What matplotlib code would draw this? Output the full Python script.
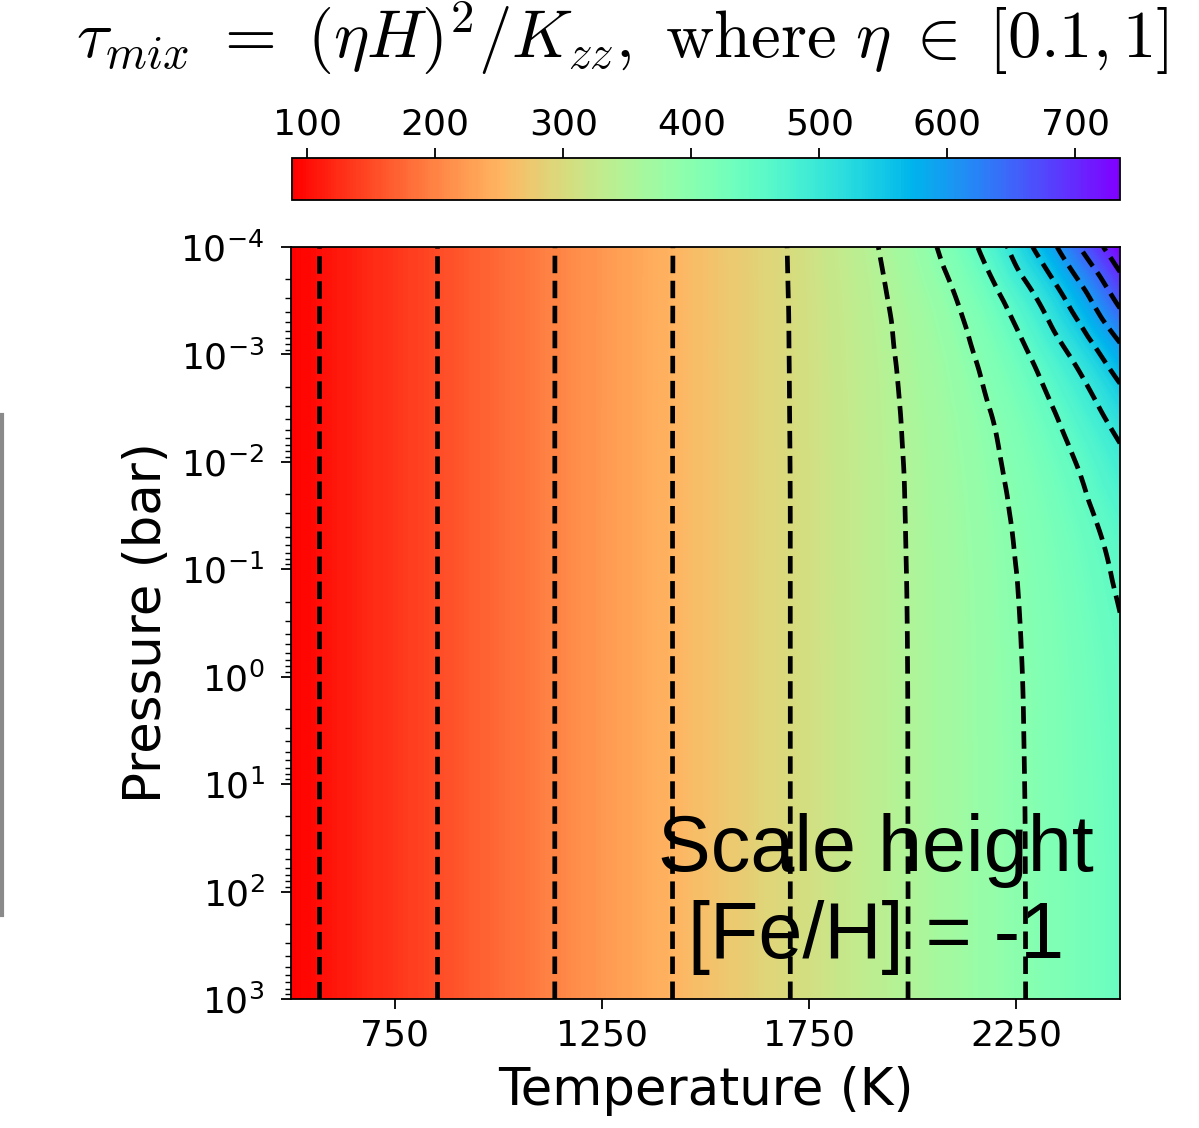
import numpy as np
import matplotlib
matplotlib.use('Agg')
import matplotlib.pyplot as plt
import matplotlib.tri as mtri
from matplotlib.lines import Line2D

# ---------------------------------------------------------------------------
# scale height H (km), on a grid of T (K) x P (bar)
# ---------------------------------------------------------------------------
T_K = [500, 1000, 1500, 1700, 1800, 1900, 2000, 2100, 2200, 2300, 2400, 2500]
P_bar = [1e-4, 3.162e-4, 1e-3, 3.162e-3, 1e-2, 3.162e-2,
         1e-1, 3.162e-1, 1e0, 1e1, 1e2, 1e3]

H_km = [
    [88, 176, 264, 300.6, 321.4, 345.5, 376.3, 418.8, 478.8, 558.2, 647.6, 735.0],
    [88, 176, 264, 300.0, 319.4, 340.6, 365.7, 397.5, 440.3, 498.6, 574.1, 660.1],
    [88, 176, 264, 299.7, 318.3, 337.9, 359.7, 385.4, 417.4, 459.1, 514.3, 584.6],
    [88, 176, 264, 299.5, 317.6, 336.4, 356.3, 378.5, 404.2, 435.6, 475.4, 526.5],
    [88, 176, 264, 299.3, 317.3, 335.5, 354.4, 374.6, 396.8, 422.2, 452.5, 489.7],
    [88, 176, 264, 299.2, 317.1, 335.0, 353.4, 372.4, 392.6, 414.6, 439.4, 468.1],
    [88, 176, 264, 299.2, 316.9, 334.8, 352.8, 371.2, 390.2, 410.3, 431.9, 455.9],
    [88, 176, 264, 299.2, 316.9, 334.6, 352.4, 370.5, 388.9, 407.9, 427.8, 448.9],
    [88, 176, 264, 299.2, 316.8, 334.5, 352.2, 370.1, 388.2, 406.5, 425.4, 445.0],
    [88, 176, 264, 299.2, 316.8, 334.4, 352.1, 369.8, 387.5, 405.4, 423.4, 441.6],
    [88, 176, 264, 299.2, 316.8, 334.4, 352.0, 369.7, 387.3, 405.0, 422.7, 440.5],
    [88, 176, 264, 299.2, 316.8, 334.4, 352.0, 369.6, 387.2, 404.9, 422.5, 440.2],
]

contour_levels = [100, 150, 200, 250, 300, 350, 400, 450, 500, 550, 600, 650, 700]
cbar_ticks = [100, 200, 300, 400, 500, 600, 700]
x_ticks = [750, 1250, 1750, 2250]

title = (r'$\tau_{mix}\ =\ (\eta H)^2/K_{zz},\ \mathrm{where}\ '
         r'\eta\; \in\; [0.1, 1]$')
note = "Scale height\n[Fe/H] = -1"

# ---------------------------------------------------------------------------
plt.rcParams['mathtext.fontset'] = 'dejavusans'
plt.rcParams['axes.linewidth'] = 1.3

fig = plt.figure(figsize=(11.99, 11.28), dpi=100)
ax = fig.add_axes([291 / 1199, 1 - 999 / 1128, 829 / 1199, 752 / 1128])
cax = fig.add_axes([292 / 1199, 1 - 200 / 1128, 828 / 1199, 42 / 1128])

T = np.array(T_K, dtype=float)
P = np.array(P_bar)
H = np.array(H_km)
vmin, vmax = H.min(), H.max()

# smooth the coarse table with matplotlib's cubic tri-interpolator,
# working in (T, log P) so the log axis is treated evenly
TT, LL = np.meshgrid(T, np.log10(P))
tri = mtri.Triangulation((TT.ravel() - 500) / 2000, (LL.ravel() + 4) / 7)
interp = mtri.CubicTriInterpolator(tri, H.ravel(), kind='geom')
tri_f, H_f = mtri.UniformTriRefiner(tri).refine_field(
    H.ravel(), triinterpolator=interp, subdiv=4)
H_f = np.clip(H_f, vmin, vmax)
tri_plot = mtri.Triangulation(500 + 2000 * tri_f.x, 10 ** (7 * tri_f.y - 4),
                              tri_f.triangles)

cf = ax.tricontourf(tri_plot, H_f, levels=np.linspace(vmin, vmax, 300),
                    cmap='rainbow_r', vmin=vmin, vmax=vmax)
ax.tricontour(tri_plot, H_f, levels=contour_levels, colors='k',
              linewidths=3.4, linestyles='--')

ax.set_yscale('log')
ax.set_ylim(1e3, 1e-4)
ax.set_xlim(500, 2500)
ax.set_xticks(x_ticks)
ax.set_xlabel('Temperature (K)', fontsize=37, labelpad=10)
ax.set_ylabel('Pressure (bar)', fontsize=37, labelpad=6)
ax.tick_params(which='major', labelsize=26, length=7, width=1.3, pad=7)
ax.tick_params(axis='y', which='major', pad=12)
ax.tick_params(which='minor', length=4, width=1.0)

ax.text(0.706, 0.14, note, transform=ax.transAxes, ha='center', va='center',
        fontsize=57, family='Liberation Sans', color='k')

cb = fig.colorbar(cf, cax=cax, orientation='horizontal', ticks=cbar_ticks)
cb.ax.xaxis.set_ticks_position('top')
cb.ax.xaxis.set_label_position('top')
cb.ax.tick_params(labelsize=26, length=7, width=1.3, pad=5)
cb.outline.set_linewidth(1.3)

fig.text(0.519, 0.966, title, ha='center', va='center', fontsize=48,
         math_fontfamily='cm')

# edge of the neighbouring panel at the left border
fig.add_artist(Line2D([0.002, 0.002], [1 - 415 / 1128, 1 - 915 / 1128],
                      transform=fig.transFigure, color='#8a8a8a', lw=3))

fig.savefig('out.png', dpi=100)
